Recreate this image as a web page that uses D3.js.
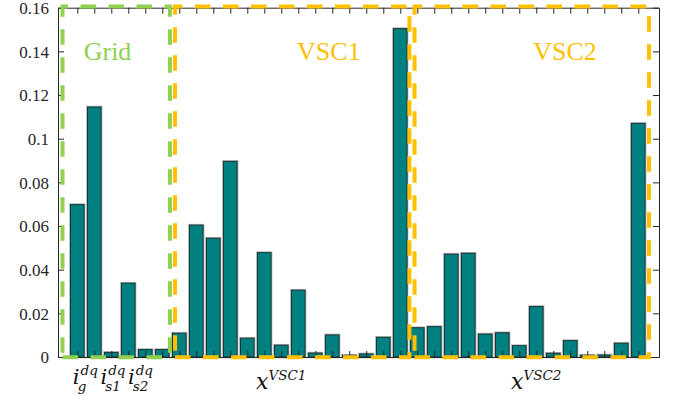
<!DOCTYPE html>
<html>
<head>
<meta charset="utf-8">
<script src="https://cdn.jsdelivr.net/npm/d3@7"></script>
<style>
  body { margin: 0; background: #fff; }
  svg { display: block; }
</style>
</head>
<body>
<div id="chart"></div>
<script>
// bar heights, one per state variable (1..34)
const barValues = [
  0.0698, 0.1145, 0.0021, 0.0338, 0.0034, 0.0034,
  0.0109, 0.0604, 0.0544, 0.0896, 0.0086, 0.0478, 0.0054, 0.0306,
  0.0018, 0.0101, 0.0008, 0.0014, 0.0090, 0.1504,
  0.0134, 0.0139, 0.0471, 0.0475, 0.0105, 0.0111, 0.0052, 0.0231,
  0.0017, 0.0075, 0.0008, 0.0009, 0.0063, 0.1070
];

const yTickValues = [0, 0.02, 0.04, 0.06, 0.08, 0.1, 0.12, 0.14, 0.16];
const yTickLabels = ["0", "0.02", "0.04", "0.06", "0.08", "0.1", "0.12", "0.14", "0.16"];

// dashed group boxes (x in bar-index units)
const groupNames = ["Grid", "VSC1", "VSC2"];
const groupColors = ["#92D050", "#FFC000", "#FFC000"];
const groupStart = [0.13, 6.75, 20.84];
const groupEnd = [6.45, 20.54, 34.63];
const groupTop = 0.1605;
const groupTitleX = [2.78, 15.8, 29.69];
const groupTitleY = 0.1362;

// x axis math labels
const labelBase = ["i", "i", "i", "x", "x"];
const labelSup = ["dq", "dq", "dq", "VSC1", "VSC2"];
const labelSub = ["g", "s1", "s2", "", ""];
const labelPos = [0.74, 2.36, 3.98, 11.52, 26.52];

const width = 680, height = 396;

const x = d3.scaleLinear().domain([-0.135, 35.22]).range([58, 659]);
const y = d3.scaleLinear().domain([0, 0.16]).range([357, 7.7]);

const svg = d3.select("#chart").append("svg")
  .attr("width", width)
  .attr("height", height);

const barW = 0.8;
const idx = d3.range(1, barValues.length + 1);

// **bars: light halo + teal fill with dark edge**
svg.append("g").selectAll("rect")
  .data(barValues)
  .join("rect")
  .attr("x", (d, i) => x(i + 1 - barW / 2))
  .attr("y", d => y(d))
  .attr("width", x(barW) - x(0))
  .attr("height", d => y(0) - y(d))
  .attr("fill", "none")
  .attr("stroke", "#b4b4b4")
  .attr("stroke-width", 2.6);

svg.append("g").selectAll("rect")
  .data(barValues)
  .join("rect")
  .attr("x", (d, i) => x(i + 1 - barW / 2))
  .attr("y", d => y(d))
  .attr("width", x(barW) - x(0))
  .attr("height", d => y(0) - y(d))
  .attr("fill", "#008080")
  .attr("stroke", "#173636")
  .attr("stroke-width", 1);

// **axes box with inward ticks**
const axisColor = "#262626";

const gLeft = svg.append("g")
  .attr("transform", `translate(${x.range()[0]},0)`)
  .call(d3.axisLeft(y).tickValues(yTickValues)
    .tickFormat((d, i) => yTickLabels[i])
    .tickSize(-6).tickSizeOuter(0).tickPadding(9));

const gRight = svg.append("g")
  .attr("transform", `translate(${x.range()[1]},0)`)
  .call(d3.axisRight(y).tickValues(yTickValues).tickFormat("")
    .tickSize(-6).tickSizeOuter(0));

const gBottom = svg.append("g")
  .attr("transform", `translate(0,${y(0)})`)
  .call(d3.axisBottom(x).tickValues(idx).tickFormat("")
    .tickSize(-6).tickSizeOuter(0));

const gTop = svg.append("g")
  .attr("transform", `translate(0,${y.range()[1]})`)
  .call(d3.axisTop(x).tickValues(idx).tickFormat("")
    .tickSize(-6).tickSizeOuter(0));

[gLeft, gRight, gBottom, gTop].forEach(g => {
  g.select(".domain").attr("stroke", axisColor).attr("stroke-width", 1);
  g.selectAll(".tick line").attr("stroke", axisColor).attr("stroke-width", 1);
});

gLeft.selectAll(".tick text")
  .attr("font-family", "'Liberation Serif', 'Times New Roman', serif")
  .attr("font-size", "17px")
  .attr("dy", "0.34em")
  .attr("fill", axisColor);

// **dashed group boxes, path starts bottom-left and runs along the bottom**
groupNames.forEach((name, i) => {
  const p = d3.path();
  p.moveTo(x(groupStart[i]), y(-0.0001));
  p.lineTo(x(groupEnd[i]), y(-0.0001));
  p.lineTo(x(groupEnd[i]), y(groupTop));
  p.lineTo(x(groupStart[i]), y(groupTop));
  p.closePath();
  svg.append("path")
    .attr("d", p.toString())
    .attr("fill", "none")
    .attr("stroke", groupColors[i])
    .attr("stroke-width", 4)
    .attr("stroke-dasharray", "15.5 12.5");

  svg.append("text")
    .attr("x", x(groupTitleX[i]))
    .attr("y", y(groupTitleY))
    .attr("text-anchor", "middle")
    .attr("font-family", "'Liberation Serif', 'Times New Roman', serif")
    .attr("font-size", "26px")
    .attr("fill", groupColors[i])
    .text(name);
});

// **math style x labels: one text each, base + sup + sub as tspans**
labelBase.forEach((b, i) => {
  const isI = b === "i";
  const x0 = x(labelPos[i]);
  const base = isI ? 384 : 388.5;
  const t = svg.append("text")
    .attr("x", x0).attr("y", base)
    .attr("font-family", "'DejaVu Serif', serif")
    .attr("font-style", "italic")
    .attr("fill", "#111");

  const main = t.append("tspan")
    .attr("font-size", isI ? "21px" : "22px")
    .text(b);
  const w = main.node().getComputedTextLength();

  t.append("tspan")
    .attr("x", x0 + w + (isI ? 1 : 0))
    .attr("y", base - 9)
    .attr("font-size", "13.5px")
    .text(labelSup[i]);

  if (labelSub[i]) {
    t.append("tspan")
      .attr("x", x0 + w - 1.8)
      .attr("y", base + 6.5)
      .attr("font-size", "13.5px")
      .text(labelSub[i]);
  }
});
</script>
</body>
</html>
